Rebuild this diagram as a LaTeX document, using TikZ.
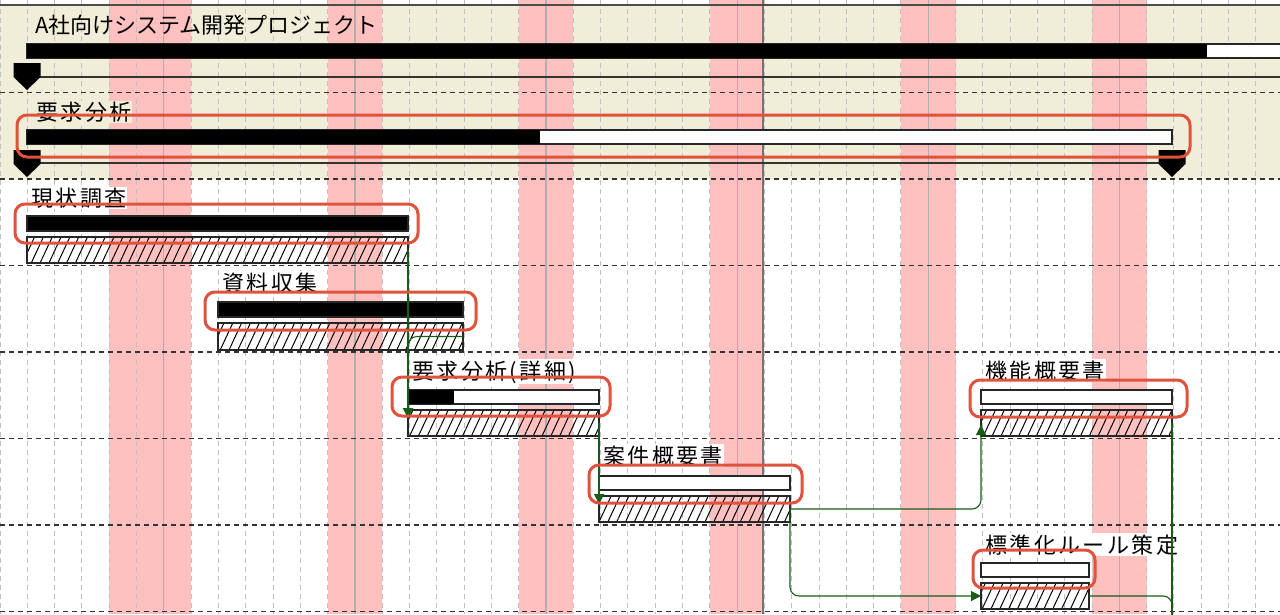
\documentclass[tikz,border=0pt]{standalone}
\usepackage{fontspec}
\newfontfamily\jpfont{Noto Sans CJK JP}
\newfontfamily\jpwide[LetterSpace=11]{Noto Sans CJK JP}
\usetikzlibrary{arrows.meta, calc, patterns.meta}

\definecolor{rowbeige}{RGB}{240,238,216}
\definecolor{holipink}{RGB}{255,192,192}
\definecolor{markred}{RGB}{224,82,60}
\definecolor{linkgreen}{RGB}{24,92,24}
\definecolor{daygray}{RGB}{192,192,192}
\definecolor{weekgray}{RGB}{176,176,176}

\begin{document}
\begin{tikzpicture}[
    x=1pt, y=-1pt,
    lbl/.style={font=\jpwide\fontsize{22}{22}\selectfont, inner sep=1pt, anchor=base west},
    pbar/.style={draw=black!85, line width=1.2pt, fill=white},
    basebar/.style={draw=black!85, line width=1.2pt, anchor=north west, inner sep=0pt, outer sep=0pt,
        minimum height=26pt, pattern={Lines[angle=65, distance=8pt, line width=1pt]}},
    link/.style={draw=linkgreen, line width=1.1pt, rounded corners=9pt, -{Triangle[length=10pt, width=10pt]}},
    hl/.style={draw=markred, line width=3pt, rounded corners=10pt},
    sepline/.style={draw=black!80, line width=1.5pt, dash pattern=on 5pt off 4pt},
]
\useasboundingbox (0,0) rectangle (1280,614);
\clip (0,0) rectangle (1280,614);
% === Background: rows, holidays, day grid ===
\fill[white] (0,0) rectangle (1280,614);
\fill[rowbeige] (0,5) rectangle (1280,179);
\foreach \a/\b in {4/7, 12/14, 19/21, 26/28, 33/35, 40/42} {
    \fill[holipink] ({\a*27.3},0) rectangle ({\b*27.3},614);
}
\foreach \d in {0,...,46} {
    \draw[daygray, line width=1pt, dash pattern=on 5pt off 4pt] ({\d*27.3},0) -- ({\d*27.3},614);
}
\foreach \d in {6,13,...,41} {
    \draw[weekgray, line width=1.2pt] ({\d*27.3},0) -- ({\d*27.3},614);
}
% Today line
\draw[black!55, line width=1.4pt] (763,0) -- (763,614);
% Row borders
\draw[black!70, line width=1.3pt] (0,5) -- (1280,5);
\foreach \y in {92.5, 179, 265.5, 352, 438.5, 525, 611.5} {
    \draw[sepline] (0,\y) -- (1280,\y);
}
% === Summary: project ===
\node[font=\jpfont\fontsize{22}{22}\selectfont, inner sep=1pt, anchor=base west] (proj_lbl) at (34,33.5) {A社向けシステム開発プロジェクト};
\draw[pbar] (27,44) rectangle (1300,58);
\fill (27,44) rectangle (1207,58);
\draw[black!80, line width=1.3pt] (27,77) -- (1290,77);
% === Summary: 要求分析 ===
\node[lbl, fill=rowbeige] (yokyu_lbl) at (35,120) {要求分析};
\draw[pbar] (27,130) rectangle (1172,144);
\fill (27,130) rectangle (540,144);
\draw[black!80, line width=1.3pt] (27,163) -- (1172,163);
% Summary markers
\foreach \x/\y in {27/63, 27/150, 1172/150} {
    \fill (\x-13.5,\y) -- (\x+13.5,\y) -- (\x+13.5,\y+14) -- (\x,\y+27) -- (\x-13.5,\y+14) -- cycle;
}
% === Tasks ===
% 現状調査
\node[lbl, fill=white] (genjo_lbl) at (30,206) {現状調査};
\draw[pbar, fill=black] (27,216) rectangle (408,231);
\node[basebar, minimum width=381pt] (genjo_base) at (27,237) {};
% 資料収集
\node[lbl, fill=white] (shiryo_lbl) at (221,291) {資料収集};
\draw[pbar, fill=black] (218,302) rectangle (463,317);
\node[basebar, minimum width=245pt, minimum height=27pt] (shiryo_base) at (218,323) {};
% 要求分析(詳細)
\node[lbl, fill=white] (shosai_lbl) at (411,379) {要求分析(詳細)};
\draw[pbar] (408,390) rectangle (599,404);
\fill (408,390) rectangle (454,404);
\node[basebar, minimum width=191pt] (shosai_base) at (408,410) {};
% 案件概要書
\node[lbl, fill=white] (anken_lbl) at (602,464) {案件概要書};
\draw[pbar] (599,476) rectangle (790,490);
\node[basebar, minimum width=191pt] (anken_base) at (599,496) {};
% 機能概要書
\node[lbl, fill=white] (kino_lbl) at (984,379) {機能概要書};
\draw[pbar] (981,390) rectangle (1172,404);
\node[basebar, minimum width=191pt] (kino_base) at (981,410) {};
% 標準化ルール策定
\node[lbl, fill=white] (hyojun_lbl) at (984,553) {標準化ルール策定};
\draw[pbar] (981,563) rectangle (1089,577);
\node[basebar, minimum width=108pt] (hyojun_base) at (981,583) {};
\coordinate (next_task) at (1172,650);
% === Links ===
\draw[link] (genjo_base.east) -- ($(shosai_base.north west)+(0,8)$);
\draw[link] (shiryo_base.east) -| ($(shosai_base.north west)+(0,8)$);
\draw[link] (shosai_base.east) -- ($(anken_base.north west)+(0,8)$);
\draw[link] (anken_base.east) -| ($(kino_base.south west)+(0,-11)$);
\draw[link] (anken_base.east) |- (hyojun_base.west);
\draw[link] (hyojun_base.east) -| (next_task);
\draw[link] (kino_base.east) -- (next_task);
% === Highlights ===
\draw[hl] (17,115) rectangle (1190,157);
\draw[hl] (15,204) rectangle (418,243);
\draw[hl] (205,292) rectangle (476,330);
\draw[hl] (392,377) rectangle (610,416);
\draw[hl] (589,465) rectangle (802,503);
\draw[hl] (970,380) rectangle (1187,417);
\draw[hl] (973,550) rectangle (1095,588);
\end{tikzpicture}
\end{document}
